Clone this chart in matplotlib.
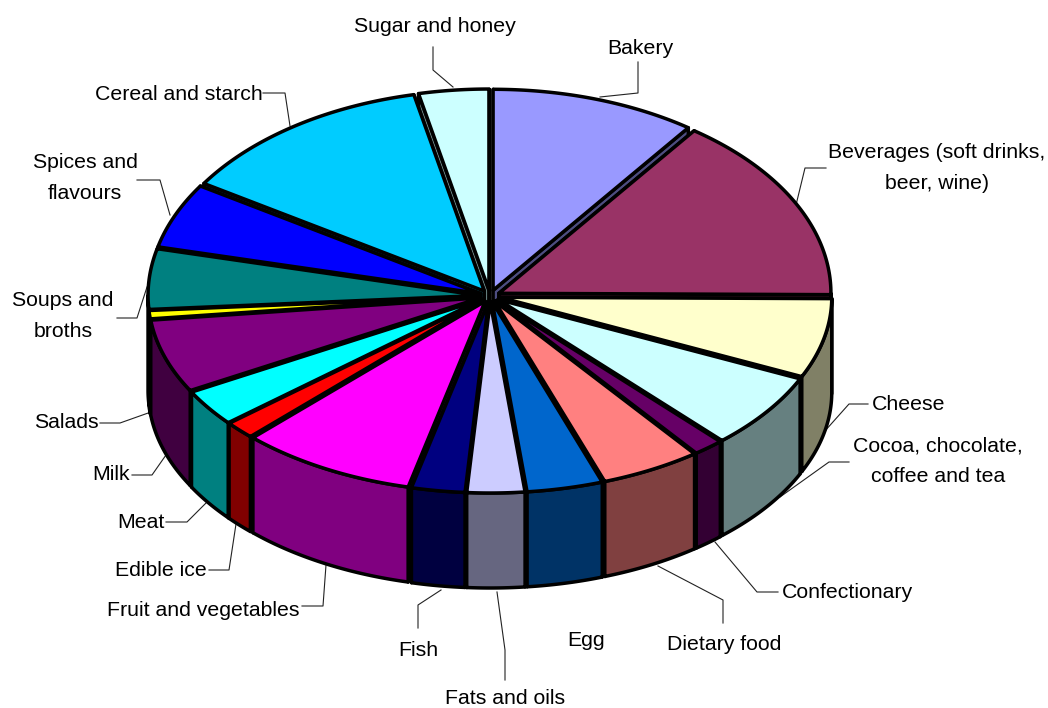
import numpy as np
import matplotlib
matplotlib.use('Agg')
import matplotlib.pyplot as plt
from matplotlib.patches import Polygon
from matplotlib.colors import to_rgb

plt.rcParams['font.family'] = ['Liberation Sans', 'DejaVu Sans']

# shares of the pie, clockwise from twelve o'clock
categories = ['Bakery', 'Beverages', 'Cheese', 'Cocoa', 'Confectionary', 'Dietary food',
              'Egg', 'Fats and oils', 'Fish', 'Fruit and vegetables', 'Edible ice', 'Meat',
              'Milk', 'Salads', 'Soups and broths', 'Spices and flavours',
              'Cereal and starch', 'Sugar and honey']
values = [10.0, 15.1, 6.7, 6.4, 1.5, 4.9, 3.7, 2.8, 2.6, 8.6, 1.5, 3.1, 6.2, 0.7, 4.9, 5.25, 12.6, 3.4]
colors = ['#9999FF', '#993366', '#FFFFCC', '#CCFFFF', '#660066', '#FF8080', '#0066CC', '#CCCCFF',
          '#000080', '#FF00FF', '#FF0000', '#00FFFF', '#800080', '#FFFF00', '#008080', '#0000FF',
          '#00CCFF', '#CCFFFF']

# text, centre x, centre y
labels = [
    ('Sugar and honey', 435, 26), ('Bakery', 640, 49),
    ('Beverages (soft drinks,\nbeer, wine)', 937, 168), ('Cereal and starch', 179, 94),
    ('Spices and\nflavours', 85, 178), ('Soups and\nbroths', 63, 316), ('Salads', 66, 422),
    ('Milk', 111, 474), ('Meat', 141, 522), ('Edible ice', 161, 571),
    ('Fruit and vegetables', 203, 610), ('Fish', 418, 651), ('Fats and oils', 505, 698),
    ('Egg', 586, 641), ('Dietary food', 724, 645), ('Confectionary', 847, 593),
    ('Cocoa, chocolate,\ncoffee and tea', 938, 461), ('Cheese', 909, 404),
]
leaders = [
    [(433, 47), (433, 70), (453, 87)], [(638, 62), (638, 93), (600, 97)],
    [(826, 168), (805, 168), (796, 205)], [(263, 93), (285, 93), (290, 126)],
    [(137, 180), (160, 180), (170, 215)], [(117, 318), (137, 318), (147, 287)],
    [(100, 423), (120, 423), (151, 412)], [(132, 475), (152, 475), (166, 455)],
    [(166, 522), (187, 522), (206, 503)], [(209, 570), (229, 570), (236, 524)],
    [(302, 606), (323, 606), (326, 565)], [(418, 628), (418, 605), (441, 590)],
    [(497, 592), (505, 650), (505, 680)], [(723, 623), (723, 600), (658, 566)],
    [(778, 592), (757, 592), (715, 542)], [(849, 462), (829, 462), (780, 497)],
    [(868, 404), (849, 404), (824, 432)],
]

cx, cy = 490, 296
rx, ry_back, ry_front = 332, 201, 191
depth = 95
explode = 10


def project(theta, r=1.0):
    c = np.cos(theta)
    ry = np.where(c > 0, ry_back, ry_front)
    return np.column_stack([cx + rx * r * np.sin(theta), cy - ry * r * c])


def darker(c):
    return tuple(v / 2 for v in to_rgb(c))


fig = plt.figure(figsize=(10.48, 7.08), dpi=100)
ax = fig.add_axes([0, 0, 1, 1])
ax.set_xlim(0, 1048)
ax.set_ylim(708, 0)
ax.axis('off')

for pts in leaders:
    xs, ys = zip(*pts)
    ax.plot(xs, ys, color='#222222', lw=0.8, zorder=1)
for text, x, y in labels:
    ax.text(x, y, text, ha='center', va='center', fontsize=15.3, color='black',
            linespacing=1.75, zorder=1)

edges = np.radians(np.concatenate([[0], np.cumsum(values) / np.sum(values) * 360]))
mids = (edges[:-1] + edges[1:]) / 2
lw = 2.5
z = 2

# walls, back to front
for i in np.argsort(-np.cos(mids)):
    a, b, m = edges[i], edges[i + 1], mids[i]
    off = np.array([explode * np.sin(m), -explode * np.cos(m) * 0.6])
    wall = darker(colors[i])
    apex = np.array([cx, cy]) + off
    for t in (a, b):
        rim = project(np.array([t]))[0] + off
        quad = [apex, rim, rim + [0, depth], apex + [0, depth]]
        ax.add_patch(Polygon(quad, closed=True, fc=wall, ec='black', lw=lw, joinstyle='round', zorder=z))
        z += 1
    lo, hi = max(a, np.pi / 2), min(b, 3 * np.pi / 2)
    if hi > lo:
        arc = project(np.linspace(lo, hi, 60)) + off
        outer = np.vstack([arc, arc[::-1] + [0, depth]])
        ax.add_patch(Polygon(outer, closed=True, fc=wall, ec='black', lw=lw, joinstyle='round', zorder=z))
        z += 1

# top faces
for i in range(len(values)):
    a, b, m = edges[i], edges[i + 1], mids[i]
    off = np.array([explode * np.sin(m), -explode * np.cos(m) * 0.6])
    arc = project(np.linspace(a, b, 80)) + off
    top = np.vstack([[np.array([cx, cy]) + off], arc])
    ax.add_patch(Polygon(top, closed=True, fc=colors[i], ec='black', lw=lw, joinstyle='round', zorder=z))
    z += 1

fig.savefig('out.png', dpi=100)
